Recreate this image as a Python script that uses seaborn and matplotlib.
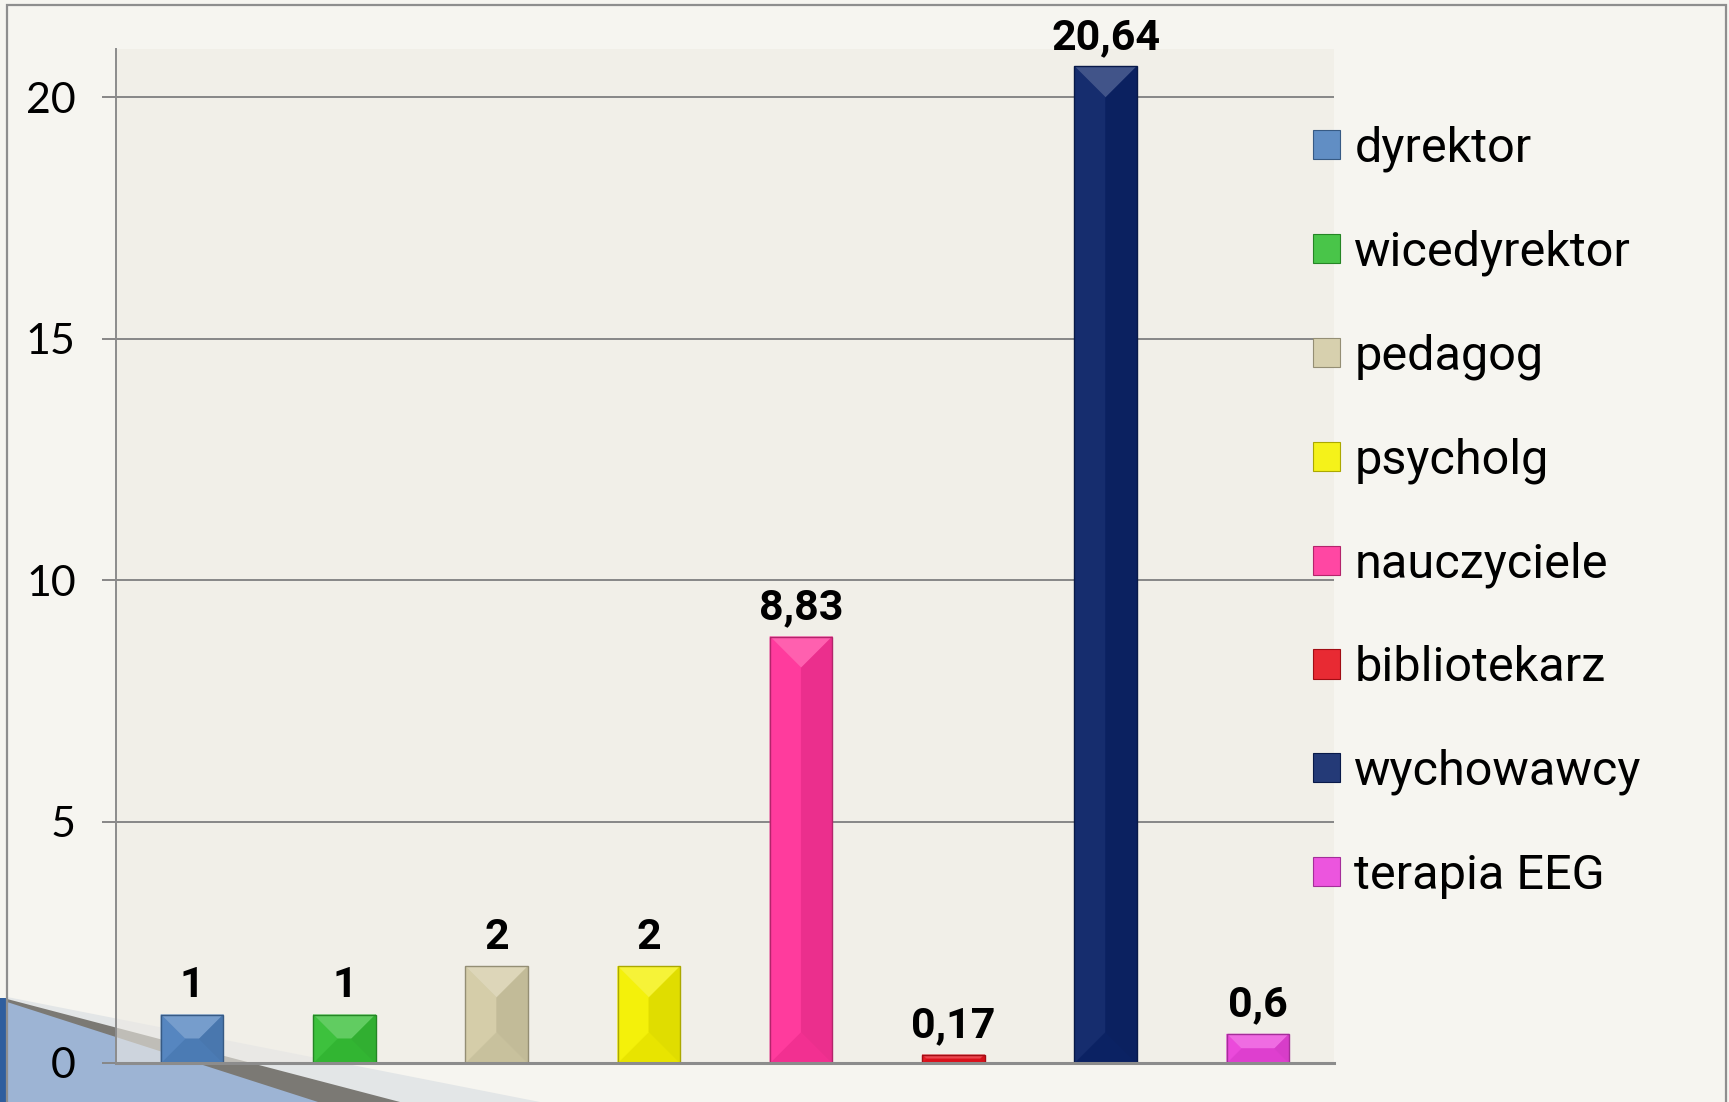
import numpy as np
import pandas as pd
import matplotlib.pyplot as plt
import matplotlib.colors as mcolors
from matplotlib.patches import Polygon, Rectangle, Patch
from matplotlib.transforms import IdentityTransform
import seaborn as sns

categories = ['dyrektor', 'wicedyrektor', 'pedagog', 'psycholg',
              'nauczyciele', 'bibliotekarz', 'wychowawcy', 'terapia EEG']
values = [1, 1, 2, 2, 8.83, 0.17, 20.64, 0.6]
bar_colors = ['#4F81BD', '#35BE35', '#D3CBA5', '#F4F000',
              '#FF3399', '#E5121C', '#0C2468', '#EA42DA']
y_ticks = [0, 5, 10, 15, 20]

df = pd.DataFrame({'kategoria': categories, 'wartosc': values})
palette = dict(zip(categories, bar_colors))

sns.set_theme(style='white')
plt.rcParams['font.family'] = ['Liberation Sans Narrow', 'Roboto', 'DejaVu Sans']
plt.rcParams['text.color'] = 'black'
plt.rcParams['ytick.labelcolor'] = 'black'

W, H = 1729, 1102
fig = plt.figure(figsize=(W / 100, H / 100), dpi=100, facecolor='#F6F5F0')


def fx(px):
    return px / W


def fy(py):
    return 1 - py / H


# slide decoration in the lower left corner (figure pixels)
deco = [
    ([(7, 997), (540, 1102), (7, 1102)], '#E3E6E7'),
    ([(7, 999), (400, 1102), (7, 1102)], '#7B7974'),
    ([(7, 1002), (318, 1102), (7, 1102)], '#9DB4D4'),
    ([(0, 998), (7, 998), (7, 1102), (0, 1102)], '#2F5E9E'),
]
for pts, col in deco:
    fig.patches.append(Polygon([(fx(a), fy(b)) for a, b in pts], closed=True,
                               transform=fig.transFigure, facecolor=col,
                               edgecolor='none', zorder=-2))
fig.patches.append(Rectangle((fx(7), fy(1110)), fx(1726) - fx(7), fy(5) - fy(1110),
                             transform=fig.transFigure, facecolor='none',
                             edgecolor='#8E8E8E', lw=1.6, zorder=-1))

ax = fig.add_axes([fx(116), fy(1063), fx(1334) - fx(116), fy(49) - fy(1063)])
ax.set_facecolor('#EEEBE4')
ax.patch.set_alpha(0.6)

sns.barplot(data=df, x='kategoria', y='wartosc', hue='kategoria', palette=palette,
            dodge=False, width=0.41, saturation=1, legend=False, ax=ax,
            edgecolor='none')

ax.set_xlim(-0.5, 7.5)
ax.set_ylim(0, 21)
ax.set_xticks([])
ax.set_yticks(y_ticks)
ax.set_xlabel('')
ax.set_ylabel('')
ax.yaxis.grid(True, color='#878787', lw=1.4)
ax.set_axisbelow(True)
for s in ['top', 'right']:
    ax.spines[s].set_visible(False)
ax.spines['left'].set_color('#8C8C8C')
ax.spines['left'].set_linewidth(1.4)
ax.spines['bottom'].set_color('#8C8C8C')
ax.spines['bottom'].set_linewidth(2.2)
ax.tick_params(axis='y', left=True, length=10, width=1.4, color='#878787',
               pad=19, labelsize=31, labelcolor='black')
for lbl in ax.get_yticklabels():
    lbl.set_fontfamily(['Lato', 'DejaVu Sans'])

# value labels with decimal comma
for cont in ax.containers:
    ax.bar_label(cont, labels=[f'{b.get_height():g}'.replace('.', ',') for b in cont],
                 padding=6, fontsize=31, fontweight='bold', color='black')


def mix(c, other, t):
    a = np.array(mcolors.to_rgb(c))
    b = np.array(mcolors.to_rgb(other))
    return tuple(a * (1 - t) + b * t)


# bevel look on every bar, built from the bar patches
for cont in ax.containers:
    for bar in cont:
        base = bar.get_facecolor()
        x0, y0 = ax.transData.transform((bar.get_x(), bar.get_y()))
        x1, y1 = ax.transData.transform((bar.get_x() + bar.get_width(),
                                         bar.get_y() + bar.get_height()))
        d = min(x1 - x0, y1 - y0) / 2
        faces = [
            ([(x0, y1), (x1, y1), (x1 - d, y1 - d), (x0 + d, y1 - d)], mix(base, 'white', 0.22)),
            ([(x0, y0), (x1, y0), (x1 - d, y0 + d), (x0 + d, y0 + d)], mix(base, 'black', 0.05)),
            ([(x0, y0), (x0, y1), (x0 + d, y1 - d), (x0 + d, y0 + d)], mix(base, 'white', 0.04)),
            ([(x1, y0), (x1, y1), (x1 - d, y1 - d), (x1 - d, y0 + d)], mix(base, 'black', 0.08)),
        ]
        for pts, col in faces:
            ax.add_patch(Polygon(pts, closed=True, transform=IdentityTransform(),
                                 facecolor=col, edgecolor=col, lw=0.3, zorder=2))
        ax.add_patch(Rectangle((x0, y0), x1 - x0, y1 - y0, transform=IdentityTransform(),
                               facecolor='none', edgecolor=mix(base, 'black', 0.3),
                               lw=1.0, zorder=2.1))

handles = [Patch(facecolor=mix(c, 'white', 0.1), edgecolor=mix(c, 'black', 0.3), lw=0.8)
           for c in bar_colors]
fig.legend(handles, categories, loc='upper left', bbox_to_anchor=(fx(1313), fy(126)),
           frameon=False, fontsize=35, handlelength=0.55, handleheight=0.55,
           handletextpad=0.3, labelspacing=1.18, borderpad=0, borderaxespad=0)

fig.savefig('out.png', dpi=100, facecolor=fig.get_facecolor())
